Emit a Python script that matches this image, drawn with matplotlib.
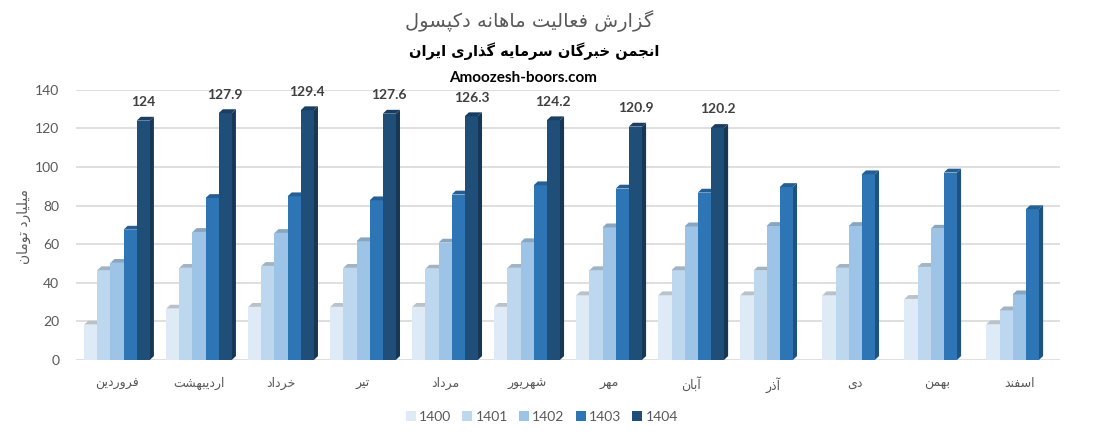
import numpy as np
import matplotlib
matplotlib.use("Agg")
import matplotlib.pyplot as plt
from matplotlib.colors import to_rgb

# ---------------- data ----------------
months = ["فروردین", "اردیبهشت", "خرداد", "تیر", "مرداد", "شهریور",
          "مهر", "آبان", "آذر", "دی", "بهمن", "اسفند"]
years = ["1400", "1401", "1402", "1403", "1404"]
v1400 = [18.3, 26.6, 27.5, 27.5, 27.5, 27.5, 33.5, 33.5, 33.5, 33.5, 31.6, 18.5]
v1401 = [46.5, 47.7, 48.7, 47.7, 47.3, 47.7, 46.5, 46.5, 46.3, 47.7, 48.2, 25.7]
v1402 = [50.3, 66.3, 65.8, 61.5, 60.8, 61.0, 68.7, 69.2, 69.4, 69.4, 68.0, 34.0]
v1403 = [67.5, 83.9, 84.8, 82.7, 85.7, 90.5, 88.8, 86.7, 89.6, 96.2, 97.1, 78.1]
v1404 = [124, 127.9, 129.4, 127.6, 126.3, 124.2, 120.9, 120.2]
colors = ["#DEEBF7", "#BDD7EE", "#9DC3E6", "#2E75B6", "#1F4E79"]

title = "گزارش فعالیت ماهانه دکپسول"
subtitle = "انجمن خبرگان سرمایه گذاری ایران"
site = "Amoozesh-boors.com"
ylabel = "میلیارد تومان"

# --------- simple persian shaping (no raqm in matplotlib) ---------
FORMS = {
    "ا": (0xFE8D, 0xFE8E, None, None), "آ": (0xFE81, 0xFE82, None, None),
    "ب": (0xFE8F, 0xFE90, 0xFE91, 0xFE92), "پ": (0xFB56, 0xFB57, 0xFB58, 0xFB59),
    "ت": (0xFE95, 0xFE96, 0xFE97, 0xFE98), "ج": (0xFE9D, 0xFE9E, 0xFE9F, 0xFEA0),
    "خ": (0xFEA5, 0xFEA6, 0xFEA7, 0xFEA8), "د": (0xFEA9, 0xFEAA, None, None),
    "ذ": (0xFEAB, 0xFEAC, None, None), "ر": (0xFEAD, 0xFEAE, None, None),
    "ز": (0xFEAF, 0xFEB0, None, None), "س": (0xFEB1, 0xFEB2, 0xFEB3, 0xFEB4),
    "ش": (0xFEB5, 0xFEB6, 0xFEB7, 0xFEB8), "ع": (0xFEC9, 0xFECA, 0xFECB, 0xFECC),
    "ف": (0xFED1, 0xFED2, 0xFED3, 0xFED4), "ک": (0xFB8E, 0xFB8F, 0xFB90, 0xFB91),
    "گ": (0xFB92, 0xFB93, 0xFB94, 0xFB95), "ل": (0xFEDD, 0xFEDE, 0xFEDF, 0xFEE0),
    "م": (0xFEE1, 0xFEE2, 0xFEE3, 0xFEE4), "ن": (0xFEE5, 0xFEE6, 0xFEE7, 0xFEE8),
    "و": (0xFEED, 0xFEEE, None, None), "ه": (0xFEE9, 0xFEEA, 0xFEEB, 0xFEEC),
    "ی": (0xFBFC, 0xFBFD, 0xFBFE, 0xFBFF),
}


def fa(text):
    out = []
    for i, c in enumerate(text):
        if c not in FORMS:
            out.append(c)
            continue
        prev = text[i - 1] if i > 0 else None
        nxt = text[i + 1] if i + 1 < len(text) else None
        iso, fin, ini, med = FORMS[c]
        jp = prev in FORMS and FORMS[prev][2] is not None
        jn = nxt in FORMS and ini is not None
        if jp and jn:
            code = med
        elif jp:
            code = fin
        elif jn:
            code = ini
        else:
            code = iso
        out.append(chr(code))
    return "".join(reversed(out))


plt.rcParams["font.family"] = ["Lato", "DejaVu Sans"]

fig = plt.figure(figsize=(11.06, 4.4), dpi=100)
ax = fig.add_axes([0.0687, 0.182, 0.89, 0.614])

series = [v1400, v1401, v1402, v1403, v1404]
x = np.arange(len(months))
w = 0.16
dx, dy = 0.05, 2.0
conts = []
for k, vals in enumerate(series):
    n = len(vals)
    xs = x[:n] + (k - 2) * w
    c = np.array(to_rgb(colors[k]))
    bc = ax.bar(xs, vals, w, color=colors[k], zorder=3 + 3 * k, label=years[k])
    conts.append(bc)
    # fake 3d faces
    for xc, h in zip(xs, vals):
        xl = xc - w / 2
        ax.fill([xl, xl + dx, xl + w + dx, xl + w], [h, h + dy, h + dy, h],
                color=c * 0.72 + np.array([0.35, 0.35, 0.35]) * 0.28 if k < 3 else c * 0.8,
                zorder=4 + 3 * k, clip_on=False, lw=0)
        ax.fill([xl + w, xl + w + dx, xl + w + dx, xl + w], [0, dy, h + dy, h],
                color=c * 0.7, zorder=2 + 3 * k, clip_on=False, lw=0)

ax.bar_label(conts[4], labels=[f"{v:g}" for v in v1404], padding=9,
             fontsize=10, fontweight="bold", color="#404040")

ax.set_xlim(-0.5, 11.5)
ax.set_ylim(0, 140)
ax.set_yticks(range(0, 141, 20))
ax.yaxis.grid(True, color="#D9D9D9", lw=1.2, zorder=0)
ax.set_axisbelow(True)
for s in ax.spines.values():
    s.set_visible(False)
ax.tick_params(length=0, colors="#595959", labelsize=10)
ax.tick_params(axis="y", pad=12)
ax.set_xticks(x)
ax.set_xticklabels([fa(m) for m in months], fontsize=9, color="#595959",
                   family="DejaVu Sans")
ax.tick_params(axis="x", pad=12)

fig.text(0.022, 0.486, fa(ylabel), rotation=90, ha="center", va="center",
         fontsize=10, color="#595959", family="DejaVu Sans")
fig.text(0.478, 0.953, fa(title), ha="center", va="center", fontsize=14,
         color="#595959", family="DejaVu Sans")
fig.text(0.483, 0.884, fa(subtitle), ha="center", va="center", fontsize=10.5,
         fontweight="bold", color="black", family="DejaVu Sans")
fig.text(0.473, 0.822, site, ha="center", va="center", fontsize=11,
         fontweight="bold", color="black")

leg = fig.legend(handles=conts, labels=years, loc="center", ncol=5,
                 bbox_to_anchor=(0.49, 0.052), frameon=False, fontsize=10,
                 handlelength=0.7, handleheight=0.7, columnspacing=0.8,
                 handletextpad=0.25)
for t in leg.get_texts():
    t.set_color("#595959")

fig.savefig("out.png", dpi=100)
